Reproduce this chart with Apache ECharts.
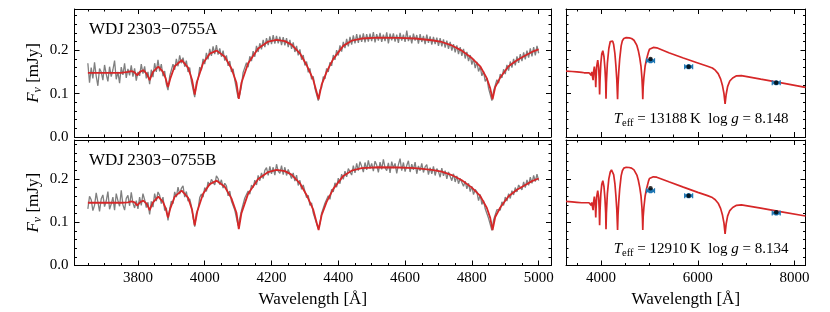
<!DOCTYPE html>
<html><head><meta charset="utf-8">
<script src="https://cdn.jsdelivr.net/npm/echarts@6/dist/echarts.min.js"></script>
<style>html,body{margin:0;padding:0;background:#fff}#c{width:830px;height:312px}</style>
</head><body><div id="c"></div>
<script>
// ---------------- DATA ----------------
const specStart = 3650, specStep = 5;   // observed spectra sampling (Å)
// observed spectra, in μJy
const specA_uJy = [
170,125,160,135,172,140,118,158,150,131,
166,145,128,162,139,155,176,133,150,124,
161,143,170,136,157,142,165,139,158,130,
150,141,168,146,163,135,150,122,155,138,
170,150,178,151,168,140,152,122,108,140,
136,168,155,180,163,188,170,183,162,176,
150,160,128,131,92,126,133,161,154,180,
168,194,179,203,187,209,191,212,190,204,
185,199,176,188,164,175,150,157,131,133,
90,98,118,149,145,171,161,186,175,198,
185,210,196,216,202,224,207,228,212,232,
214,235,215,233,216,231,212,230,211,228,
207,224,203,218,196,210,188,202,178,189,
165,174,149,158,133,140,112,110,84,108,
114,139,134,158,150,172,164,189,178,200,
188,211,197,219,205,226,209,231,213,234,
216,237,217,236,219,239,218,237,220,238,
221,242,218,237,222,240,219,236,221,241,
216,238,223,239,220,236,217,240,222,236,
219,245,221,234,216,238,222,235,215,237,
219,233,214,236,217,232,213,231,214,229,
210,228,209,225,206,222,203,219,199,214,
195,211,191,207,187,203,181,196,175,189,
167,180,159,173,151,162,141,151,128,136,
112,114,84,106,109,132,124,145,136,156,
145,166,153,174,160,180,165,186,171,191,
175,195,179,199,183,204,186,207,188,210,
193];
const specB_uJy = [
131,160,152,127,139,168,147,125,154,163,
136,149,171,130,142,158,128,166,150,137,
174,140,128,155,162,138,169,145,133,150,
131,158,139,166,152,134,146,118,148,135,
166,149,170,162,143,158,127,133,104,130,
149,143,170,158,181,165,178,184,158,171,
149,154,138,111,90,121,130,157,165,158,
180,171,193,185,199,202,186,207,201,187,
198,179,190,184,161,172,149,150,128,129,
92,90,127,130,156,152,172,165,186,180,
197,186,208,196,214,201,220,226,208,229,
212,227,209,234,218,213,231,210,227,208,
222,219,201,214,195,209,185,197,176,186,
171,157,162,139,145,121,118,97,86,97,
121,122,144,141,161,153,176,170,191,181,
202,189,211,199,218,205,224,228,209,231,
214,236,219,240,229,216,238,221,243,224,
236,218,241,232,215,239,222,245,226,219,
237,214,240,225,236,213,233,247,219,238,
217,231,242,216,234,221,239,212,230,219,
236,215,228,233,210,226,212,229,208,224,
217,204,225,207,219,200,216,213,196,212,
193,207,189,201,204,183,195,177,190,171,
183,164,176,170,150,164,141,150,131,135,
109,112,81,105,108,129,131,128,147,139,
158,149,166,155,173,163,180,170,186,183,
175,193,180,198,185,204,190,208,194,211,
196];
// model spectra [wavelength Å, flux mJy]
const modelA = [[3650,0.148],[3700,0.148],[3750,0.148],[3770,0.150],[3781,0.152],[3790,0.149],[3798,0.142],[3806,0.150],[3816,0.154],[3826,0.146],[3835,0.131],[3845,0.150],[3861,0.162],[3875,0.150],[3883,0.135],[3890,0.115],[3897,0.135],[3910,0.163],[3931,0.177],[3950,0.160],[3962,0.132],[3970,0.098],[3978,0.130],[3995,0.170],[4015,0.192],[4036,0.199],[4060,0.185],[4080,0.158],[4095,0.125],[4102,0.088],[4110,0.125],[4130,0.170],[4160,0.204],[4190,0.220],[4215,0.224],[4240,0.221],[4260,0.213],[4285,0.193],[4305,0.166],[4325,0.132],[4341,0.087],[4350,0.120],[4365,0.150],[4385,0.180],[4415,0.210],[4440,0.222],[4470,0.227],[4520,0.229],[4580,0.2285],[4630,0.227],[4680,0.223],[4710,0.219],[4740,0.211],[4770,0.199],[4800,0.182],[4825,0.163],[4845,0.135],[4855,0.112],[4862,0.087],[4870,0.115],[4885,0.137],[4910,0.163],[4935,0.177],[4960,0.188],[4980,0.196],[5000,0.202]];
const modelB = [[3650,0.145],[3700,0.145],[3750,0.145],[3770,0.146],[3781,0.148],[3790,0.146],[3798,0.139],[3806,0.146],[3816,0.150],[3826,0.143],[3835,0.128],[3845,0.146],[3861,0.159],[3875,0.147],[3883,0.132],[3890,0.111],[3897,0.132],[3910,0.159],[3931,0.173],[3950,0.157],[3962,0.129],[3970,0.093],[3978,0.126],[3995,0.166],[4015,0.188],[4036,0.196],[4060,0.182],[4080,0.155],[4095,0.122],[4102,0.084],[4110,0.121],[4130,0.166],[4160,0.200],[4190,0.216],[4215,0.221],[4240,0.218],[4260,0.210],[4285,0.190],[4305,0.163],[4325,0.129],[4341,0.082],[4350,0.116],[4365,0.147],[4385,0.177],[4415,0.207],[4440,0.219],[4470,0.225],[4520,0.227],[4580,0.2265],[4630,0.225],[4680,0.221],[4710,0.217],[4740,0.209],[4770,0.197],[4800,0.180],[4825,0.161],[4845,0.133],[4855,0.110],[4862,0.082],[4870,0.112],[4885,0.134],[4910,0.160],[4935,0.175],[4960,0.186],[4980,0.195],[5000,0.201]];
// model extension beyond the spectrum range (right panels)
const wideBlueA = [[3275,0.152],[3400,0.151],[3500,0.150],[3600,0.149]];
const wideRedA = [[5030,0.205],[5080,0.2065],[5150,0.2055],[5400,0.194],[5700,0.182],[6000,0.1707],[6200,0.163],[6300,0.159],[6360,0.154],[6420,0.146],[6470,0.134],[6510,0.118],[6540,0.100],[6563,0.076],[6585,0.098],[6615,0.116],[6660,0.129],[6720,0.136],[6800,0.141],[6900,0.1415],[7300,0.1333],[7700,0.1252],[8225,0.1145]];
const wideBlueB = [[3275,0.148],[3400,0.147],[3500,0.146],[3600,0.145]];
const wideRedB = [[5030,0.203],[5080,0.205],[5150,0.204],[5400,0.1935],[5700,0.181],[6000,0.169],[6200,0.1615],[6300,0.157],[6360,0.152],[6420,0.144],[6470,0.132],[6510,0.116],[6540,0.098],[6563,0.073],[6585,0.096],[6615,0.114],[6660,0.127],[6720,0.134],[6800,0.139],[6900,0.140],[7300,0.1325],[7700,0.1245],[8225,0.1144]];
// photometry [wavelength Å, flux mJy]
const photObsA = [[5022,0.1758],[5810,0.1620],[7620,0.1250]];
const photSynA = [[5022,0.1797],[5810,0.1620],[7620,0.1250]];
const photObsB = [[5022,0.1728],[5810,0.1613],[7620,0.1213]];
const photSynB = [[5022,0.1784],[5810,0.1613],[7620,0.1229]];
// labels
const starNames = ['WDJ\u20092303\u22120755A', 'WDJ\u20092303\u22120755B'];
const teffs = ['13188', '12910'];
const loggs = ['8.148', '8.134'];
// ticks
const xTicksLeft = [3800,4000,4200,4400,4600,4800,5000];
const xMinorLeft = [3650,3700,3750,3850,3900,3950,4050,4100,4150,4250,4300,4350,4450,4500,4550,4650,4700,4750,4850,4900,4950];
const xTicksRight = [4000,6000,8000];
const xMinorRight = [3500,4500,5000,5500,6500,7000,7500];
const yTicks = [0, 0.1, 0.2];
const yMinor = [0.02,0.04,0.06,0.08,0.12,0.14,0.16,0.18,0.22,0.24,0.26,0.28];

// ---------------- CHART ----------------
const FONT = 'Liberation Serif';
const RED = '#d62728', GRAY = '#7f7f7f', BLUE = '#1f77b4';
const grids = [
  {left:74.5, top:9,   width:476.5, height:128,   xr:[3610,5037], yr:[0,0.295], xl:false, yl:true},
  {left:74.5, top:140, width:476.5, height:125.5, xr:[3610,5037], yr:[0,0.29],  xl:true,  yl:true},
  {left:566,  top:9,   width:239.5, height:128,   xr:[3275,8225], yr:[0,0.295], xl:false, yl:false},
  {left:566,  top:140, width:239.5, height:125.5, xr:[3275,8225], yr:[0,0.29],  xl:true,  yl:false}
];
const xAxes = [], yAxes = [], mainX = [], mainY = [];
const lineBlack = {color:'#000', width:1};
grids.forEach((g, gi) => {
  const left = gi < 2;
  const maj = left ? xTicksLeft : xTicksRight;
  const min = left ? xMinorLeft : xMinorRight;
  [['bottom', maj, 5, true], ['bottom', min, 2.5, false], ['top', maj, 5, true], ['top', min, 2.5, false]].forEach(([pos, vals, len, line], k) => {
    const showLab = (k === 0 && g.xl);
    const ax = {
      gridIndex: gi, type: 'value', min: g.xr[0], max: g.xr[1], position: pos, offset: 0,
      axisLine: {show: line, onZero: false, lineStyle: lineBlack},
      axisTick: {show: true, inside: true, length: len, customValues: vals, lineStyle: lineBlack},
      axisLabel: {show: showLab, customValues: vals, margin: 5, fontFamily: FONT, fontSize: 15, color: '#000', formatter: v => String(v)},
      splitLine: {show: false}
    };
    if (showLab) {
      ax.name = 'Wavelength [Å]'; ax.nameLocation = 'middle'; ax.nameGap = 26;
      ax.nameTextStyle = {fontFamily: FONT, fontSize: 17, color: '#000'};
    }
    if (k === 0) mainX.push(xAxes.length);
    xAxes.push(ax);
  });
  [['left', yTicks, 5, true], ['left', yMinor, 2.5, false], ['right', yTicks, 5, true], ['right', yMinor, 2.5, false]].forEach(([pos, vals, len, line], k) => {
    const showLab = (k === 0 && g.yl);
    const ax = {
      gridIndex: gi, type: 'value', min: g.yr[0], max: g.yr[1], position: pos, offset: 0,
      axisLine: {show: line, onZero: false, lineStyle: lineBlack},
      axisTick: {show: true, inside: true, length: len, customValues: vals, lineStyle: lineBlack},
      axisLabel: {show: showLab, customValues: vals, margin: 6, fontFamily: FONT, fontSize: 15, color: '#000', formatter: v => v.toFixed(1)},
      splitLine: {show: false}
    };
    if (k === 0) mainY.push(yAxes.length);
    yAxes.push(ax);
  });
});

const spectrum = vals => vals.map((v, i) => [specStart + i * specStep, v / 1000]);
const lineSeries = (gi, data, color, width, z) => ({
  type: 'line', xAxisIndex: mainX[gi], yAxisIndex: mainY[gi], data: data,
  showSymbol: false, symbol: 'none', clip: true, z: z, silent: true,
  lineStyle: {color: color, width: width}, animation: false
});
const obsSeries = (gi, data) => ({
  type: 'custom', xAxisIndex: mainX[gi], yAxisIndex: mainY[gi], data: data, z: 5, silent: true,
  encode: {x: 0, y: 1},
  renderItem: (params, api) => {
    const p = api.coord([api.value(0), api.value(1)]);
    return {type: 'group', children: [
      {type: 'line', shape: {x1: p[0]-4, y1: p[1], x2: p[0]+4, y2: p[1]}, style: {stroke: BLUE, lineWidth: 3}},
      {type: 'line', shape: {x1: p[0]-4, y1: p[1]-2.5, x2: p[0]-4, y2: p[1]+2.5}, style: {stroke: BLUE, lineWidth: 1.2}},
      {type: 'line', shape: {x1: p[0]+4, y1: p[1]-2.5, x2: p[0]+4, y2: p[1]+2.5}, style: {stroke: BLUE, lineWidth: 1.2}},
      {type: 'circle', shape: {cx: p[0], cy: p[1], r: 2.6}, style: {fill: BLUE}}
    ]};
  }
});
const synSeries = (gi, data) => ({
  type: 'scatter', xAxisIndex: mainX[gi], yAxisIndex: mainY[gi], data: data, z: 6, silent: true,
  symbol: 'circle', symbolSize: 4.5, itemStyle: {color: '#000'}, animation: false
});

const series = [
  lineSeries(0, spectrum(specA_uJy), GRAY, 1.3, 2),
  lineSeries(0, modelA, RED, 1.8, 3),
  lineSeries(1, spectrum(specB_uJy), GRAY, 1.3, 2),
  lineSeries(1, modelB, RED, 1.8, 3),
  lineSeries(2, wideBlueA.concat(modelA, wideRedA), RED, 1.7, 3),
  obsSeries(2, photObsA), synSeries(2, photSynA),
  lineSeries(3, wideBlueB.concat(modelB, wideRedB), RED, 1.7, 3),
  obsSeries(3, photObsB), synSeries(3, photSynB)
];

// --- text with sub-scripts, laid out piece by piece ---
const mctx = document.createElement('canvas').getContext('2d');
const fontStr = (p) => (p.it ? 'italic ' : '') + p.s + 'px "' + FONT + '"';
const tw = (p) => { mctx.font = fontStr(p); return mctx.measureText(p.t).width; };
// pieces: baseline offset dy (px, + = down)
function pieceTexts(pieces, x0, baseY) {
  let x = x0;
  return pieces.map(p => {
    const w = tw(p);
    const el = {type: 'text', x: x, y: baseY + (p.dy || 0) - 0.305 * p.s, silent: true,
      style: {text: p.t, font: fontStr(p), fill: '#000', align: 'left', verticalAlign: 'middle'}};
    x += w;
    return el;
  });
}
const totalW = pieces => pieces.reduce((a, p) => a + tw(p), 0);

const graphics = [];
[0, 1].forEach(i => {
  const g = grids[i];
  graphics.push({type: 'text', left: g.left + 14.5, top: g.top + 12, silent: true,
    style: {text: starNames[i], fontFamily: FONT, fontSize: 17, fill: '#000'}});
  // Teff / log g annotation, right aligned
  const tp = [
    {t: 'T', s: 15, it: true}, {t: 'eff', s: 10.5, dy: 2.7},
    {t: ' = ' + teffs[i] + '\u2009K  log ', s: 15}, {t: 'g', s: 15, it: true},
    {t: ' = ' + loggs[i], s: 15}
  ];
  const baseY = i === 0 ? 123.3 : 253.3;
  pieceTexts(tp, 788.5 - totalW(tp), baseY).forEach(e => graphics.push(e));
  // y axis title, rotated
  const yp = [{t: 'F', s: 17, it: true}, {t: 'ν', s: 12, it: true, dy: 3}, {t: ' [mJy]', s: 17}];
  const W = totalW(yp);
  graphics.push({type: 'group', x: 38.5, y: g.top + g.height / 2, rotation: Math.PI / 2, silent: true,
    children: pieceTexts(yp, -W / 2, 0)});
});

const chart = echarts.init(document.getElementById('c'), null, {renderer: 'canvas'});
chart.setOption({
  animation: false,
  backgroundColor: '#fff',
  grid: grids.map(g => ({left: g.left, top: g.top, width: g.width, height: g.height, containLabel: false, outerBoundsMode: 'none'})),
  xAxis: xAxes, yAxis: yAxes, series: series, graphic: graphics
});
</script></body></html>
